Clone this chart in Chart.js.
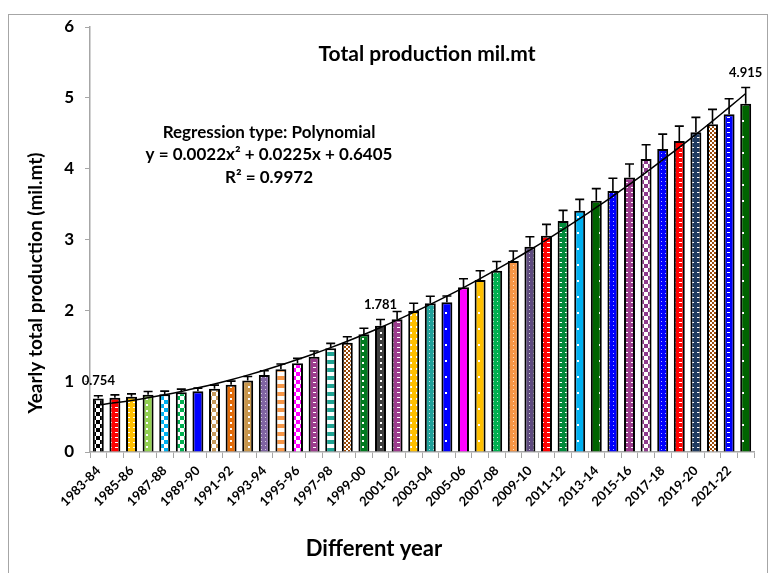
<!DOCTYPE html>
<html>
<head>
<meta charset="utf-8">
<script src="https://cdn.jsdelivr.net/npm/chart.js@4.4.1/dist/chart.umd.min.js"></script>
<style>
  html, body { margin: 0; padding: 0; background: #fff; overflow: hidden; }
  #wrap { position: relative; width: 768px; height: 573px; }
  #frame { position: absolute; left: 8px; top: 14px; width: 758px; height: 620px; border: 1px solid #a6a6a6; }
  #chart { position: absolute; left: 0; top: 0; }
</style>
</head>
<body>
<div id="wrap">
  <div id="frame"></div>
  <canvas id="chart" width="768" height="573"></canvas>
</div>
<script>
// values
const years = [
  '1983-84', '1984-85', '1985-86', '1986-87', '1987-88', '1988-89', '1989-90', '1990-91',
  '1991-92', '1992-93', '1993-94', '1994-95', '1995-96', '1996-97', '1997-98', '1998-99',
  '1999-00', '2000-01', '2001-02', '2002-03', '2003-04', '2004-05', '2005-06', '2006-07',
  '2007-08', '2008-09', '2009-10', '2010-11', '2011-12', '2012-13', '2013-14', '2014-15',
  '2015-16', '2016-17', '2017-18', '2018-19', '2019-20', '2020-21', '2021-22', '2022-23'
];
const production = [
  0.754, 0.767, 0.781, 0.809, 0.815, 0.843, 0.857, 0.894, 0.950, 1.010,
  1.087, 1.168, 1.252, 1.345, 1.464, 1.543, 1.662, 1.781, 1.873, 1.991,
  2.099, 2.113, 2.325, 2.428, 2.560, 2.697, 2.899, 3.054, 3.261, 3.407,
  3.548, 3.685, 3.875, 4.137, 4.278, 4.391, 4.514, 4.627, 4.768, 4.915
];
const errors = [
  0.04, 0.04, 0.04, 0.045, 0.045, 0.045, 0.045, 0.05, 0.05, 0.055,
  0.06, 0.075, 0.07, 0.08, 0.07, 0.085, 0.085, 0.09, 0.11, 0.11,
  0.10, 0.09, 0.12, 0.13, 0.13, 0.14, 0.14, 0.16, 0.15, 0.16,
  0.17, 0.18, 0.19, 0.20, 0.21, 0.21, 0.21, 0.21, 0.22, 0.23
];
const yTicks = [0, 1, 2, 3, 4, 5, 6];
// polynomial trendline, as printed on the chart: a*x^2 + b*x + c
const trendCoef = [0.0022, 0.0225, 0.6405];
const labelledBars = [0, 17, 39];

const barColors = [
  '#000000', '#ff0000', '#ffc000', '#92d050', '#00b0f0', '#00b050', '#0000ff', '#c89b5a',
  '#e36c09', '#c8964b', '#8064a2', '#f79646', '#ff00ff', '#9b3b8c', '#1fa393', '#984806',
  '#007a1f', '#3f3f3f', '#9b3b8c', '#ffc000', '#21a19a', '#0000ff', '#ff00ff', '#ffc000',
  '#00b050', '#f79646', '#5f4b7f', '#ff0000', '#008a3a', '#00b0f0', '#006400', '#0000ff',
  '#9b3b8c', '#8e3a8c', '#0000ff', '#ff0000', '#1f3a5f', '#984806', '#0000ff', '#006400'
];
const barPatterns = [
  'check', 'dash', 'dash', 'dot', 'check', 'check', 'sparse', 'check',
  'dot', 'dot', 'dense', 'stripe', 'check', 'dash', 'stripe', 'small',
  'dot', 'dot', 'dash', 'dot', 'dense', 'sparse', 'sparse', 'sparse',
  'dense', 'dense', 'dense', 'dash', 'dash', 'sparse', 'sparse', 'dense',
  'dash', 'check', 'dense', 'dash', 'dash', 'small', 'dash', 'sparse'
];

const FONT = 'Lato, "Open Sans", sans-serif';

// small tiles like Excel's pattern fills
function makePattern(ctx, color, kind) {
  const t = document.createElement('canvas');
  const sizes = { check: [8, 8], small: [4, 4], dash: [6, 5], dot: [6, 6], sparse: [11, 16], dense: [4, 4], stripe: [8, 8] };
  const [w, h] = sizes[kind];
  t.width = w; t.height = h;
  const c = t.getContext('2d');
  c.fillStyle = color;
  c.fillRect(0, 0, w, h);
  c.fillStyle = '#ffffff';
  if (kind === 'check') { c.fillRect(0, 0, 4, 4); c.fillRect(4, 4, 4, 4); }
  else if (kind === 'small') { c.fillRect(0, 0, 2, 2); c.fillRect(2, 2, 2, 2); }
  else if (kind === 'dash') { c.fillRect(1, 2, 3, 1); }
  else if (kind === 'dot') { c.fillRect(2, 2, 2, 2); }
  else if (kind === 'sparse') { c.fillRect(5, 8, 2, 2); }
  else if (kind === 'dense') { c.globalAlpha = 0.7; c.fillRect(1, 1, 1, 1); }
  else if (kind === 'stripe') { c.fillRect(0, 4, 8, 4); }
  return ctx.createPattern(t, 'repeat');
}

const canvas = document.getElementById('chart');
const ctx = canvas.getContext('2d');
const fills = barColors.map((col, i) => makePattern(ctx, col, barPatterns[i]));
const trend = years.map((_, i) => {
  const x = i + 1;
  return trendCoef[0] * x * x + trendCoef[1] * x + trendCoef[2];
});

const errorBars = {
  id: 'errorBars',
  afterDatasetDraw(chart, args) {
    if (args.index !== 0) return;
    const c = chart.ctx, y = chart.scales.y;
    c.save();
    c.strokeStyle = '#000';
    c.lineWidth = 1.6;
    args.meta.data.forEach((bar, i) => {
      const top = y.getPixelForValue(production[i]);
      const hi = y.getPixelForValue(production[i] + errors[i]);
      c.beginPath();
      c.moveTo(bar.x, top); c.lineTo(bar.x, hi);
      c.moveTo(bar.x - 4.5, hi); c.lineTo(bar.x + 4.5, hi);
      c.stroke();
    });
    c.restore();
  }
};

const texts = {
  id: 'texts',
  afterDraw(chart) {
    const c = chart.ctx, y = chart.scales.y;
    const meta = chart.getDatasetMeta(0);
    c.save();
    c.fillStyle = '#000';
    c.textAlign = 'center';
    c.textBaseline = 'middle';
    // value labels
    c.font = 'bold 13px ' + FONT;
    labelledBars.forEach(i => {
      const py = y.getPixelForValue(production[i] + errors[i]) - 15;
      c.fillText(production[i].toFixed(3), meta.data[i].x, py);
    });
    // title
    c.font = 'bold 21px ' + FONT;
    c.fillText('Total production mil.mt', 427, 54);
    // regression box
    c.font = 'bold 17px ' + FONT;
    c.fillText('Regression type: Polynomial', 269, 133);
    c.fillText('y = 0.0022x\u00b2 + 0.0225x + 0.6405', 269, 155);
    c.fillText('R\u00b2 = 0.9972', 269, 178);
    // axis titles
    c.font = 'bold 22px ' + FONT;
    c.fillText('Different year', 374, 549);
    c.font = 'bold 19px ' + FONT;
    c.translate(36, 283);
    c.rotate(-Math.PI / 2);
    c.fillText('Yearly total production (mil.mt)', 0, 0);
    c.restore();
  }
};

new Chart(ctx, {
  data: {
    labels: years,
    datasets: [
      {
        type: 'bar',
        data: production,
        backgroundColor: fills,
        borderColor: '#000',
        borderWidth: 2,
        borderSkipped: 'bottom',
        barPercentage: 0.66,
        categoryPercentage: 1.0,
        order: 2
      },
      {
        type: 'line',
        data: trend,
        borderColor: '#000',
        borderWidth: 1.5,
        pointRadius: 0,
        tension: 0.4,
        fill: false,
        order: 1
      }
    ]
  },
  options: {
    responsive: false,
    animation: false,
    events: [],
    layout: { padding: { left: 0, top: 27, right: 14, bottom: 0 } },
    plugins: { legend: { display: false }, tooltip: { enabled: false } },
    scales: {
      x: {
        offset: true,
        grid: { display: true, drawOnChartArea: false, offset: true, tickLength: 6, color: '#a6a6a6' },
        border: { color: '#a6a6a6', width: 1.5 },
        ticks: {
          autoSkip: false,
          minRotation: 45,
          maxRotation: 45,
          padding: 5,
          color: '#000',
          font: { family: FONT, size: 13, weight: 'bold' },
          callback: (v, i) => (i % 2 === 0 ? years[i] : '')
        },
        afterFit: s => { s.height = 121; }
      },
      y: {
        min: 0,
        max: 6,
        afterBuildTicks: s => { s.ticks = yTicks.map(v => ({ value: v })); },
        grid: { display: true, drawOnChartArea: false, tickLength: 5, color: '#a6a6a6' },
        border: { color: '#a6a6a6', width: 1.5 },
        ticks: {
          padding: 11,
          color: '#000',
          font: { family: FONT, size: 17, weight: 'bold' }
        },
        afterFit: s => { s.width = 90; }
      }
    }
  },
  plugins: [errorBars, texts]
});
</script>
</body>
</html>
